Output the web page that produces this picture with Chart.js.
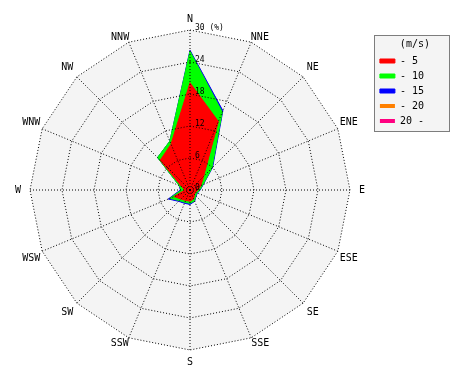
<!DOCTYPE html>
<html>
<head>
<meta charset="utf-8">
<script src="https://cdn.jsdelivr.net/npm/chart.js@4/dist/chart.umd.min.js"></script>
<style>
html,body{margin:0;padding:0;background:#fff;}
#wrap{width:470px;height:380px;}
</style>
</head>
<body>
<div id="wrap"><canvas id="c" width="470" height="380"></canvas></div>
<script>
// ---- data (frequency %, per speed band) ----
const directions = ['N','NNE','NE','ENE','E','ESE','SE','SSE','S','SSW','SW','WSW','W','WNW','NW','NNW'];
const speedBands = ['- 5','- 10','- 15','- 20','20 -'];
const band5      = [20.1, 13.9, 3.6, 2.2, 1.5, 1.1, 1.2, 1.8, 2.1, 2.1, 2.4, 3.2, 1.0, 1.7, 7.9, 9.3];
const band10     = [ 5.9,  1.9, 2.2, 0.4, 0.3, 0.3, 0.3, 0.4, 0.4, 0.4, 0.4, 0.9, 0.6, 0.5, 0.7, 0.6];
const band15     = [ 0.2,  0.3, 0.2, 0.1, 0.1, 0.1, 0.1, 0.1, 0.2, 0.2, 0.2, 0.3, 0.2, 0.0, 0.0, 0.0];
const band20     = [ 0.0,  0.0, 0.0, 0.0, 0.0, 0.0, 0.0, 0.0, 0.0, 0.0, 0.0, 0.0, 0.0, 0.0, 0.0, 0.0];
const band20plus = [ 0.0,  0.0, 0.0, 0.0, 0.0, 0.0, 0.0, 0.0, 0.0, 0.0, 0.0, 0.0, 0.0, 0.0, 0.0, 0.0];
const tickValues = [0, 6, 12, 18, 24, 30];
const tickLabels = ['0', '6', '12', '18', '24', '30 (%)'];

// ---- styles ----
const bandColors = ['#ff0000', '#00ff00', '#0000ff', '#ff8000', '#ff0080'];
const labelPad = [5, -1, 5, 2, 9, 2, 5, 0, 6, 0, 5, 2, 9, 2, 5, -1];
const FONT = 'DejaVu Sans Mono';

// cumulative (stacked) rings
const bands = [band5, band10, band15, band20, band20plus];
const cumulative = [];
let running = directions.map(() => 0);
bands.forEach(b => {
  running = running.map((v, i) => Math.round((v + b[i]) * 100) / 100);
  cumulative.push(running);
});

const datasets = speedBands.map((name, k) => ({
  label: name,
  data: cumulative[k],
  backgroundColor: bandColors[k],
  borderColor: k < 3 ? bandColors[k] : 'rgba(0,0,0,0)',
  borderWidth: 1,
  fill: 'origin',
  pointRadius: 0,
  pointHoverRadius: 0,
  tension: 0
}));

const backdrop = {
  id: 'backdrop',
  afterLayout(chart) {
    chart.legend.width = 80;
  },
  beforeDraw(chart) {
    const s = chart.scales.r;
    const ctx = chart.ctx;
    ctx.save();
    ctx.beginPath();
    for (let i = 0; i < directions.length; i++) {
      const p = s.getPointPosition(i, s.drawingArea);
      if (i === 0) ctx.moveTo(p.x, p.y); else ctx.lineTo(p.x, p.y);
    }
    ctx.closePath();
    ctx.fillStyle = '#f4f4f4';
    ctx.fill();
    // legend frame
    const lg = chart.legend;
    const hb = lg.legendHitBoxes;
    const x0 = Math.floor(hb[0].left) - 4.5;
    const y0 = Math.round(lg.top) + 22.5;
    const last = hb[hb.length - 1];
    const y1 = Math.round(last.top + last.height) + 5.5;
    const x1 = x0 + 75;
    ctx.fillStyle = '#f4f4f4';
    ctx.fillRect(x0, y0, x1 - x0, y1 - y0);
    ctx.setLineDash([1, 1]);
    ctx.strokeStyle = '#000';
    ctx.lineWidth = 1;
    ctx.strokeRect(x0, y0, x1 - x0, y1 - y0);
    ctx.restore();
  },
  afterDraw(chart) {
    const s = chart.scales.r;
    const ctx = chart.ctx;
    ctx.save();
    ctx.font = '8px "' + FONT + '"';
    ctx.fillStyle = '#000';
    ctx.textAlign = 'left';
    ctx.textBaseline = 'middle';
    tickValues.forEach((v, i) => {
      const d = s.getDistanceFromCenterForValue(v);
      ctx.fillText(tickLabels[i], s.xCenter + 5, s.yCenter - d - 2.5);
    });
    ctx.restore();
  }
};

new Chart(document.getElementById('c'), {
  type: 'radar',
  data: { labels: directions, datasets },
  plugins: [backdrop],
  options: {
    responsive: false,
    animation: false,
    layout: { padding: { left: 6, right: 36, top: 13, bottom: 11 } },
    plugins: {
      legend: {
        position: 'right',
        align: 'start',
        labels: {
          boxWidth: 15, boxHeight: 4, padding: 5, color: '#000',
          font: { family: FONT, size: 10 }
        },
        title: {
          display: true, text: '(m/s)', color: '#000',
          font: { family: FONT, size: 10 },
          padding: { top: 26, bottom: 0 }
        }
      },
      tooltip: { enabled: false }
    },
    scales: {
      r: {
        min: 0, max: 30, startAngle: 0,
        ticks: { stepSize: 6, display: false },
        grid: { color: '#000', lineWidth: 1, circular: false, z: 1 },
        border: { dash: [1, 2] },
        angleLines: { color: '#000', lineWidth: 1, borderDash: [1, 2] },
        pointLabels: {
          color: '#000',
          font: { family: FONT, size: 10 },
          padding: (ctx) => labelPad[ctx.index]
        }
      }
    }
  }
});
</script>
</body>
</html>
